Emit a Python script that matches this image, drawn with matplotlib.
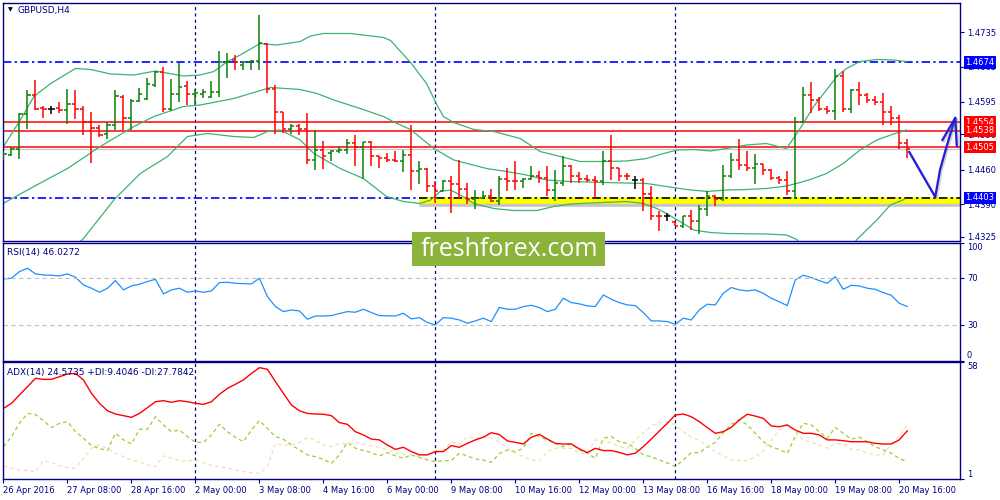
import matplotlib
matplotlib.use("Agg")
import matplotlib.pyplot as plt
import matplotlib.patheffects as pe
from matplotlib.patches import Rectangle
import numpy as np

# ---- GBPUSD H4 bars (26 Apr 2016 .. 20 May 2016) ----
opens = [1.4486, 1.4489, 1.4501, 1.4571, 1.4608, 1.4584, 1.4582, 1.4584, 1.4579, 1.4590,
         1.4581, 1.4554, 1.4544, 1.4530, 1.4549, 1.4606, 1.4564, 1.4597, 1.4601, 1.4628,
         1.4654, 1.4582, 1.4610, 1.4627, 1.4610, 1.4611, 1.4606, 1.4616, 1.4674, 1.4679,
         1.4669, 1.4674, 1.4678, 1.4710, 1.4622, 1.4574, 1.4542, 1.4547, 1.4542, 1.4480,
         1.4500, 1.4492, 1.4496, 1.4499, 1.4512, 1.4506, 1.4514, 1.4487, 1.4484, 1.4479,
         1.4478, 1.4489, 1.4456, 1.4461, 1.4426, 1.4416, 1.4438, 1.4430, 1.4421, 1.4402,
         1.4404, 1.4406, 1.4396, 1.4442, 1.4438, 1.4436, 1.4442, 1.4447, 1.4444, 1.4419,
         1.4432, 1.4466, 1.4446, 1.4442, 1.4439, 1.4436, 1.4477, 1.4464, 1.4447, 1.4439,
         1.4439, 1.4410, 1.4367, 1.4366, 1.4354, 1.4347, 1.4366, 1.4356, 1.4382, 1.4406,
         1.4402, 1.4446, 1.4479, 1.4469, 1.4464, 1.4471, 1.4460, 1.4444, 1.4440, 1.4416,
         1.4554, 1.4609, 1.4599, 1.4582, 1.4578, 1.4647, 1.4582, 1.4619, 1.4609, 1.4599,
         1.4594, 1.4574, 1.4564, 1.4512]
highs = [1.4496, 1.4506, 1.4572, 1.4620, 1.4639, 1.4587, 1.4587, 1.4596, 1.4621, 1.4620,
         1.4587, 1.4576, 1.4548, 1.4554, 1.4619, 1.4609, 1.4601, 1.4624, 1.4644, 1.4657,
         1.4666, 1.4642, 1.4672, 1.4637, 1.4622, 1.4622, 1.4637, 1.4697, 1.4692, 1.4689,
         1.4677, 1.4679, 1.4769, 1.4712, 1.4628, 1.4576, 1.4550, 1.4550, 1.4572, 1.4539,
         1.4517, 1.4500, 1.4507, 1.4521, 1.4529, 1.4516, 1.4518, 1.4487, 1.4492, 1.4496,
         1.4499, 1.4549, 1.4477, 1.4464, 1.4436, 1.4439, 1.4447, 1.4479, 1.4432, 1.4419,
         1.4418, 1.4422, 1.4447, 1.4464, 1.4476, 1.4444, 1.4467, 1.4456, 1.4467, 1.4459,
         1.4486, 1.4469, 1.4455, 1.4449, 1.4446, 1.4497, 1.4529, 1.4464, 1.4452, 1.4446,
         1.4444, 1.4426, 1.4376, 1.4372, 1.4358, 1.4367, 1.4380, 1.4389, 1.4416, 1.4409,
         1.4469, 1.4492, 1.4522, 1.4496, 1.4491, 1.4471, 1.4462, 1.4447, 1.4456, 1.4566,
         1.4626, 1.4634, 1.4606, 1.4587, 1.4662, 1.4658, 1.4622, 1.4636, 1.4612, 1.4607,
         1.4612, 1.4587, 1.4569, 1.4522]
lows = [1.4479, 1.4486, 1.4482, 1.4542, 1.4579, 1.4564, 1.4571, 1.4572, 1.4550, 1.4562,
        1.4528, 1.4472, 1.4526, 1.4522, 1.4539, 1.4539, 1.4540, 1.4596, 1.4599, 1.4626,
        1.4576, 1.4577, 1.4594, 1.4589, 1.4589, 1.4604, 1.4604, 1.4606, 1.4644, 1.4659,
        1.4659, 1.4659, 1.4659, 1.4612, 1.4531, 1.4532, 1.4530, 1.4529, 1.4470, 1.4460,
        1.4462, 1.4476, 1.4492, 1.4490, 1.4466, 1.4442, 1.4467, 1.4464, 1.4474, 1.4474,
        1.4454, 1.4419, 1.4431, 1.4414, 1.4392, 1.4416, 1.4372, 1.4402, 1.4391, 1.4382,
        1.4402, 1.4394, 1.4389, 1.4418, 1.4419, 1.4424, 1.4439, 1.4432, 1.4407, 1.4396,
        1.4426, 1.4432, 1.4432, 1.4434, 1.4404, 1.4429, 1.4440, 1.4438, 1.4439, 1.4422,
        1.4378, 1.4360, 1.4338, 1.4358, 1.4346, 1.4344, 1.4340, 1.4331, 1.4366, 1.4386,
        1.4398, 1.4444, 1.4460, 1.4456, 1.4431, 1.4449, 1.4440, 1.4431, 1.4409, 1.4402,
        1.4552, 1.4572, 1.4578, 1.4571, 1.4560, 1.4574, 1.4572, 1.4589, 1.4592, 1.4589,
        1.4549, 1.4549, 1.4502, 1.4484]
closes = [1.4491, 1.4501, 1.4570, 1.4608, 1.4582, 1.4582, 1.4582, 1.4579, 1.4590, 1.4581,
          1.4554, 1.4544, 1.4529, 1.4549, 1.4607, 1.4564, 1.4597, 1.4611, 1.4630, 1.4654,
          1.4582, 1.4610, 1.4626, 1.4610, 1.4612, 1.4616, 1.4616, 1.4676, 1.4676, 1.4674,
          1.4674, 1.4677, 1.4712, 1.4622, 1.4574, 1.4542, 1.4547, 1.4542, 1.4480, 1.4499,
          1.4487, 1.4498, 1.4499, 1.4512, 1.4506, 1.4514, 1.4487, 1.4484, 1.4479, 1.4478,
          1.4489, 1.4456, 1.4461, 1.4426, 1.4416, 1.4438, 1.4430, 1.4421, 1.4402, 1.4404,
          1.4406, 1.4396, 1.4442, 1.4438, 1.4436, 1.4442, 1.4447, 1.4444, 1.4419, 1.4432,
          1.4466, 1.4446, 1.4442, 1.4439, 1.4436, 1.4477, 1.4464, 1.4447, 1.4446, 1.4439,
          1.4410, 1.4367, 1.4366, 1.4366, 1.4347, 1.4366, 1.4356, 1.4382, 1.4406, 1.4402,
          1.4446, 1.4479, 1.4469, 1.4464, 1.4471, 1.4460, 1.4444, 1.4440, 1.4416, 1.4554,
          1.4609, 1.4599, 1.4582, 1.4578, 1.4647, 1.4582, 1.4619, 1.4609, 1.4599, 1.4594,
          1.4574, 1.4564, 1.4512, 1.4501]

# Bollinger bands, read at sample bar positions
bb_up_x = [0, 2.1, 3.8, 5.9, 9, 10.9, 13.4, 16.3, 19, 22.5, 24.6, 26.3, 28, 29.6, 32.1, 34.2,
           37.1, 38.4, 40, 43.4, 47.5, 48.4, 50.9, 52.9, 54.2, 55, 56.3, 58.8, 61.3, 64.6,
           67.1, 69.6, 72.1, 75, 77.9, 80.4, 82.1, 84.2, 86.3, 88.4, 90.4, 92.9, 95.4, 97.9,
           99.2, 100, 101.3, 102.9, 104.2, 105.4, 107.1, 109.2, 111.3, 112.9]
bb_up = [1.4506, 1.4559, 1.4606, 1.4632, 1.4662, 1.4660, 1.4651, 1.4649, 1.4657, 1.4647,
         1.4649, 1.4656, 1.4676, 1.4689, 1.4712, 1.4709, 1.4716, 1.4727, 1.4732, 1.4732,
         1.4724, 1.4718, 1.4674, 1.4632, 1.4589, 1.4566, 1.4554, 1.4540, 1.4536, 1.4522,
         1.4496, 1.4486, 1.4476, 1.4476, 1.4477, 1.4482, 1.4490, 1.4499, 1.4500, 1.4497,
         1.4502, 1.4509, 1.4512, 1.4502, 1.4532, 1.4552, 1.4586, 1.4619, 1.4646, 1.4662,
         1.4676, 1.4680, 1.4679, 1.4676]
bb_mid_x = [-0.4, 3.8, 8, 12.1, 16.3, 18.8, 22.5, 24.6, 28.8, 31.3, 33.4, 37.1, 39.2, 41.3,
            44.6, 47.5, 49.2, 50.9, 53.8, 56.3, 60.4, 62.9, 65.4, 67.9, 70.9, 75, 80.4, 82.9,
            85.4, 88, 90.4, 92.9, 95.4, 97.9, 99.6, 100.9, 102.9, 105, 107.1, 109.2, 111.3,
            112.9]
bb_mid = [1.4389, 1.4426, 1.4462, 1.4506, 1.4546, 1.4566, 1.4586, 1.4589, 1.4602, 1.4614,
          1.4624, 1.4620, 1.4612, 1.4599, 1.4582, 1.4566, 1.4552, 1.4540, 1.4502, 1.4479,
          1.4462, 1.4456, 1.4449, 1.4439, 1.4436, 1.4434, 1.4432, 1.4426, 1.4420, 1.4416,
          1.4419, 1.4420, 1.4422, 1.4427, 1.4434, 1.4440, 1.4452, 1.4472, 1.4499, 1.4519,
          1.4531, 1.4539]
bb_low_x = [8.5, 10, 13.8, 17.1, 20.5, 23, 25.5, 28.8, 31.3, 33, 34.6, 37.1, 38.8, 42.1, 45,
            47.9, 50, 52.1, 53.4, 54.6, 55.9, 57.1, 58.8, 61.3, 63.8, 66.7, 68.8, 70.9, 75,
            77.9, 80, 81.7, 82.9, 84.6, 86.3, 88.4, 90.4, 95.4, 97.9, 99.2, 100.5, 105.5,
            106.7, 109.2, 110.9, 112.6]
bb_low = [1.4300, 1.4322, 1.4399, 1.4452, 1.4486, 1.4526, 1.4532, 1.4526, 1.4524, 1.4536,
          1.4539, 1.4519, 1.4492, 1.4462, 1.4442, 1.4406, 1.4396, 1.4392, 1.4399, 1.4416,
          1.4419, 1.4409, 1.4392, 1.4382, 1.4378, 1.4378, 1.4386, 1.4391, 1.4394, 1.4396,
          1.4392, 1.4382, 1.4372, 1.4356, 1.4339, 1.4334, 1.4332, 1.4331, 1.4329, 1.4320,
          1.4290, 1.4290, 1.4320, 1.4359, 1.4389, 1.4400]

rsi = [69.4, 70.0, 75.7, 78.5, 73.7, 72.8, 72.5, 72.0, 73.7, 70.9,
       64.3, 61.5, 58.1, 61.5, 68.0, 60.1, 63.5, 64.9, 67.2, 69.1,
       56.7, 60.1, 61.5, 58.1, 59.2, 58.1, 59.2, 66.3, 66.6, 65.7,
       65.4, 65.2, 70.0, 54.4, 45.9, 41.6, 43.0, 42.2, 35.1, 37.9,
       37.9, 38.2, 40.0, 41.6, 41.1, 43.6, 40.8, 38.2, 38.0, 37.9,
       40.2, 35.4, 36.5, 32.3, 30.3, 36.5, 36.0, 34.5, 31.7, 33.7,
       36.0, 33.1, 45.2, 43.6, 43.6, 45.9, 47.0, 45.0, 41.6, 43.6,
       53.0, 49.3, 48.2, 46.5, 45.9, 55.8, 52.1, 49.3, 47.3, 46.7,
       40.8, 33.7, 33.7, 33.1, 30.8, 36.0, 34.5, 43.0, 47.9, 47.3,
       57.2, 62.1, 60.1, 59.2, 60.1, 57.2, 53.0, 50.0, 46.7, 68.6,
       72.6, 70.6, 68.0, 65.7, 71.4, 60.6, 64.0, 63.5, 61.5, 60.6,
       57.8, 55.5, 48.7, 46.0]

adx = [35.6, 38.0, 42.1, 46.1, 50.2, 49.7, 49.7, 51.0, 52.3, 52.6,
       49.4, 42.9, 38.0, 34.4, 32.8, 32.0, 31.2, 33.1, 35.9, 38.8,
       39.3, 38.5, 39.3, 38.8, 38.0, 37.5, 38.8, 42.4, 45.3, 47.3,
       49.4, 52.6, 55.4, 54.6, 48.6, 42.9, 37.2, 34.4, 33.1, 32.8,
       32.7, 32.0, 28.6, 27.8, 24.2, 22.6, 20.6, 20.2, 17.7, 15.6,
       16.6, 14.5, 12.9, 12.9, 14.5, 14.5, 17.4, 16.6, 18.5, 20.2,
       21.5, 23.7, 22.8, 19.7, 19.0, 18.2, 21.5, 22.9, 20.6, 18.5,
       18.2, 18.2, 15.8, 14.0, 16.1, 15.0, 15.0, 14.1, 12.9, 13.7,
       16.9, 20.6, 24.5, 28.3, 32.3, 32.8, 31.5, 29.1, 26.2, 23.4,
       24.2, 26.3, 29.9, 32.7, 31.8, 30.7, 27.0, 26.6, 27.5, 25.0,
       23.4, 23.4, 22.6, 20.2, 20.2, 19.8, 19.3, 19.3, 19.3, 18.5,
       18.2, 18.2, 20.2, 24.6]
plus_di = [16.9, 21.8, 28.3, 33.1, 32.5, 29.5, 26.2, 28.3, 29.1, 24.2,
           21.0, 17.4, 16.0, 15.0, 23.4, 20.2, 18.2, 25.4, 25.4, 31.5,
           27.5, 24.2, 25.0, 21.8, 19.0, 19.0, 22.6, 27.8, 24.2, 21.5,
           19.3, 25.0, 29.6, 25.8, 21.8, 20.5, 17.7, 15.3, 12.9, 12.0,
           10.7, 8.8, 12.9, 19.0, 16.1, 15.0, 14.0, 12.4, 14.0, 12.4,
           11.2, 12.9, 11.7, 10.4, 9.6, 10.1, 10.1, 13.7, 12.4, 10.9,
           10.4, 9.3, 13.5, 15.3, 14.5, 16.1, 23.4, 21.8, 20.2, 18.5,
           16.9, 18.5, 15.3, 13.7, 11.2, 21.0, 21.8, 19.3, 18.5, 16.1,
           12.9, 12.0, 10.4, 9.0, 7.2, 10.4, 14.0, 14.0, 16.6, 19.0,
           23.7, 27.8, 29.9, 27.5, 23.4, 19.3, 16.9, 15.5, 13.7, 21.8,
           28.3, 27.5, 24.2, 21.0, 26.2, 23.4, 20.6, 21.5, 19.3, 16.9,
           15.3, 13.7, 11.2, 9.4]
minus_di = [7.5, 6.4, 5.5, 5.2, 4.7, 10.1, 9.1, 7.7, 6.7, 6.4,
            11.2, 16.1, 17.7, 16.1, 13.7, 12.0, 10.4, 9.6, 8.0, 7.2,
            12.4, 11.2, 10.1, 9.9, 10.4, 9.1, 7.7, 7.2, 6.4, 5.5,
            4.7, 4.2, 3.9, 7.2, 18.5, 17.7, 17.7, 18.9, 21.3, 20.2,
            17.7, 16.9, 18.5, 18.2, 18.9, 18.5, 17.2, 16.6, 15.3, 13.7,
            13.3, 12.9, 12.0, 12.9, 15.0, 15.3, 19.3, 18.2, 21.8, 21.0,
            21.8, 21.0, 19.3, 16.1, 13.7, 12.0, 10.4, 10.1, 14.5, 16.1,
            16.1, 16.1, 13.7, 13.7, 20.2, 19.3, 18.9, 16.9, 16.1, 20.2,
            23.4, 27.0, 28.6, 29.1, 27.5, 24.2, 21.5, 20.0, 17.2, 14.5,
            12.5, 10.5, 10.1, 10.1, 12.0, 15.0, 20.0, 25.0, 27.5, 24.7,
            20.2, 19.0, 17.7, 16.1, 18.5, 18.2, 15.6, 15.3, 13.7, 12.9,
            12.9, 18.2, 21.8, 27.8]

x_tick_bars = [0, 8, 16, 24, 32, 40, 48, 56, 64, 72, 80, 88, 96, 104, 112]
x_tick_labels = ["26 Apr 2016", "27 Apr 08:00", "28 Apr 16:00", "2 May 00:00", "3 May 08:00",
                 "4 May 16:00", "6 May 00:00", "9 May 08:00", "10 May 16:00", "12 May 00:00",
                 "13 May 08:00", "16 May 16:00", "18 May 00:00", "19 May 08:00", "20 May 16:00"]
week_starts = [24, 54, 84]
price_ticks = [1.4735, 1.4665, 1.4595, 1.4530, 1.4460, 1.4390, 1.4325]
red_levels = [1.4554, 1.4538, 1.4505]
blue_levels = [1.4674, 1.4403]
bid = 1.4501
support_start = 51.9

title = "GBPUSD,H4"
rsi_caption = "RSI(14) 46.0272"
adx_caption = "ADX(14) 24.5735 +DI:9.4046 -DI:27.7842"

# hand drawn forecast arrow (bar, price)
arrow_x = [113.25, 116.5, 117.1, 117.9, 119.0]
arrow_y = [1.4495, 1.4405, 1.4459, 1.4505, 1.4563]
head_x = [117.4, 119.0, 119.2]
head_y = [1.4519, 1.4563, 1.4507]

NAVY = "#000080"
GREEN = "#0a800a"
RED = "#ff0000"
BAND = "#3cb371"
plt.rcParams["font.family"] = ["DejaVu Sans"]
FS = 6

fig = plt.figure(figsize=(10, 5), dpi=100)
W, H = 1000.0, 500.0
def box(l, t, r, b):
    return [l / W, 1 - b / H, (r - l) / W, (b - t) / H]

ax = fig.add_axes(box(2.7, 3, 960, 241))
ax_rsi = fig.add_axes(box(2.7, 243, 960, 360.5), sharex=ax)
ax_adx = fig.add_axes(box(2.7, 362.3, 960, 479.3), sharex=ax)

idx = np.arange(len(opens))
o, h, l, c = (np.array(a) for a in (opens, highs, lows, closes))
cols = np.where(c > o, GREEN, np.where(c < o, RED, "black"))

# horizontal levels
for lv in blue_levels:
    ax.axhline(lv, color="#0000ff", lw=1.2, ls=(0, (5, 2, 1.4, 2)), zorder=1)
ax.plot([support_start, 119.6], [1.4399, 1.4399], color="#ffff00", lw=4.8,
        solid_capstyle="butt", zorder=1.5,
        path_effects=[pe.SimpleLineShadow(offset=(0, -2.5), shadow_color="gray", alpha=0.45),
                      pe.Normal()])
ax.plot([support_start, 119.6], [1.4403, 1.4403], color="black", lw=1.2,
        ls=(0, (5, 2, 1.4, 2)), zorder=1.6)
ax.axhline(bid, color="#c8c8c8", lw=0.9, zorder=1)
for lv in red_levels:
    ax.axhline(lv, color=RED, lw=1.1, zorder=1.7)

# bollinger bands
ax.plot(bb_up_x, bb_up, color=BAND, lw=0.9, zorder=2)
ax.plot(bb_mid_x, bb_mid, color=BAND, lw=0.9, zorder=2)
ax.plot(bb_low_x, bb_low, color=BAND, lw=0.9, zorder=2)

# OHLC bars
ax.vlines(idx, l, h, colors=cols, lw=1.1, zorder=3)
ax.hlines(o, idx - 0.38, idx, colors=cols, lw=1.1, zorder=3)
ax.hlines(c, idx, idx + 0.38, colors=cols, lw=1.1, zorder=3)

# forecast arrow
shadow = [pe.SimpleLineShadow(offset=(1, -1), shadow_color="#666666", alpha=0.3), pe.Normal()]
ax.plot(arrow_x, arrow_y, color="#1e1edc", lw=1.6, zorder=4, path_effects=shadow)
ax.plot(head_x, head_y, color="#1e1edc", lw=1.6, zorder=4, path_effects=shadow)

ax.set_ylim(1.4317, 1.4793)

# RSI
ax_rsi.plot(idx, rsi, color="#1e90ff", lw=0.9)
for lv in (70, 30):
    ax_rsi.axhline(lv, color="#c0c0c0", lw=0.8, ls=(0, (4, 3)))
ax_rsi.set_ylim(0, 100)

# ADX
ax_adx.plot(idx, plus_di, color="#9acd32", lw=0.9, ls=(0, (3, 2.5)))
ax_adx.plot(idx, minus_di, color="#f5deb3", lw=0.9, ls=(0, (3, 2.5)))
ax_adx.plot(idx, adx, color=RED, lw=1.0)
ax_adx.set_ylim(1, 58)

for a in (ax, ax_rsi, ax_adx):
    for wk in week_starts:
        a.axvline(wk, color=NAVY, lw=0.9, ls=(0, (2.5, 2.5)), zorder=1)
    for s in a.spines.values():
        s.set_color(NAVY)
        s.set_linewidth(1.0)
    a.yaxis.tick_right()
    a.tick_params(axis="y", which="both", direction="out", length=3, width=0.8,
                  colors=NAVY, labelsize=FS, pad=2)
    a.tick_params(axis="x", bottom=False, labelbottom=False)

ax.set_yticks(price_ticks)
ax.set_yticklabels([f"{p:.4f}" for p in price_ticks])
ax.set_xlim(-0.1, 119.6)

ax_rsi.set_yticks([0, 30, 70, 100])
ax_rsi.set_yticklabels(["0", "30", "70", "100"])
for lab, va in zip(ax_rsi.get_yticklabels(), ["bottom", "center", "center", "top"]):
    lab.set_va(va)
ax_adx.set_yticks([1, 58])
ax_adx.set_yticklabels(["1", "58"])
for lab, va in zip(ax_adx.get_yticklabels(), ["bottom", "top"]):
    lab.set_va(va)

ax_adx.tick_params(axis="x", bottom=True, labelbottom=True, direction="out", length=3,
                   width=0.8, colors=NAVY, labelsize=FS, pad=2)
ax_adx.set_xticks(x_tick_bars)
ax_adx.set_xticklabels(x_tick_labels, ha="left")

# coloured price labels on the right scale
ytr = ax.get_yaxis_transform()
def price_label(p, fc, tc="white", z=5):
    ax.text(1.0 + 5.5 / 957, p, f"{p:.4f}", transform=ytr, ha="left", va="center",
            fontsize=FS, color=tc, clip_on=False, zorder=z,
            bbox=dict(boxstyle="square,pad=0.22", fc=fc, ec="none"))

ax.text(1.0 + 5.5 / 957, bid, f"{bid:.4f}", transform=ytr, ha="left", va="center",
        fontsize=FS, color=NAVY, clip_on=False, zorder=4)
for lv in blue_levels:
    price_label(lv, "#0000ff")
for lv in red_levels:
    price_label(lv, RED)

# panel captions
fig.text(10 / W, 1 - 10 / H, "\u25bc", fontsize=4.5, color="black", ha="center", va="center")
fig.text(18 / W, 1 - 10 / H, title, fontsize=FS + 0.5, color=NAVY, va="center")
fig.text(7 / W, 1 - 252 / H, rsi_caption, fontsize=FS + 0.5, color=NAVY, va="center")
fig.text(7 / W, 1 - 372 / H, adx_caption, fontsize=FS + 0.5, color=NAVY, va="center")

# watermark
fig.add_artist(Rectangle((412 / W, 1 - 266 / H), 193 / W, 34 / H, transform=fig.transFigure,
                         fc="#8cb43c", ec="none", zorder=5))
fig.text(509 / W, 1 - 249 / H, "freshforex.com", fontsize=18, color="white",
         family="Open Sans", ha="center", va="center", zorder=6)

fig.savefig("out.png", dpi=100, facecolor="white")
